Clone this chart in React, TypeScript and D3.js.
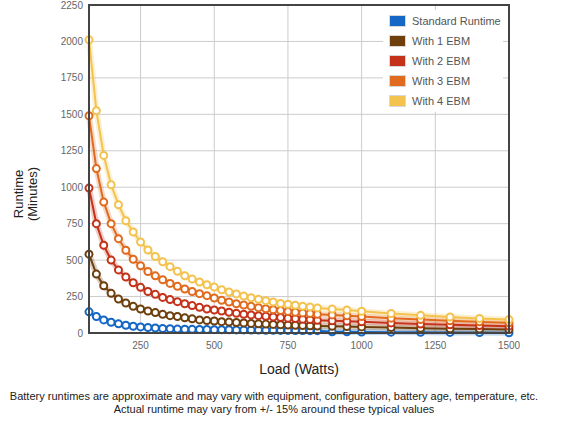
import { useEffect, useRef } from 'react';
import * as d3 from 'd3';

// Load in watts (x values shared by every series)
const loads = [
  75, 100, 125, 150, 175, 200, 225, 250, 275, 300, 325, 350, 375, 400, 425, 450, 475,
  500, 525, 550, 575, 600, 625, 650, 675, 700, 725, 750, 775, 800, 825, 850,
  900, 950, 1000, 1100, 1200, 1300, 1400, 1500,
];

const standardRuntime = [
  145, 113, 90, 74, 63, 53, 46, 42, 38, 34, 31, 29, 27, 26, 25, 24, 24,
  23, 22, 22, 21, 21, 20, 20, 19, 19, 18, 18, 17, 17, 16, 16,
  8, 8, 7, 6, 5, 4, 3, 2,
];
const with1Ebm = [
  541, 404, 324, 272, 233, 206, 183, 165, 151, 140, 128, 119, 113, 104, 97, 90, 85,
  82, 78, 75, 72, 69, 66, 63, 61, 59, 57, 55, 53, 51, 50, 48,
  46, 44, 42, 37, 33, 30, 27, 24,
];
const with2Ebm = [
  994, 750, 602, 500, 433, 384, 345, 313, 285, 265, 244, 229, 215, 201, 188, 176, 165,
  158, 151, 142, 135, 128, 124, 119, 115, 110, 106, 101, 99, 94, 92, 87,
  84, 80, 77, 69, 61, 56, 51, 47,
];
const with3Ebm = [
  1490, 1128, 898, 750, 647, 568, 506, 461, 422, 392, 365, 340, 320, 302, 285, 270, 256,
  240, 224, 213, 201, 192, 183, 174, 167, 160, 154, 147, 142, 138, 133, 128,
  124, 118, 113, 102, 92, 84, 77, 70,
];
const with4Ebm = [
  2011, 1525, 1218, 1017, 880, 770, 693, 624, 569, 525, 489, 455, 423, 393, 370, 350, 331,
  315, 297, 281, 268, 254, 242, 231, 222, 213, 203, 197, 190, 183, 179, 172,
  165, 157, 149, 134, 121, 110, 100, 92,
];

const seriesNames = ['Standard Runtime', 'With 1 EBM', 'With 2 EBM', 'With 3 EBM', 'With 4 EBM'];
const seriesValues = [standardRuntime, with1Ebm, with2Ebm, with3Ebm, with4Ebm];
const seriesColors = ['#1467c4', '#6e3f0d', '#c33219', '#e06b1e', '#f4c24f'];

const xTicks = [250, 500, 750, 1000, 1250, 1500];
const yTicks = [0, 250, 500, 750, 1000, 1250, 1500, 1750, 2000, 2250];

const captionLines = [
  'Battery runtimes are approximate and may vary with equipment, configuration, battery age, temperature, etc.',
  'Actual runtime may vary from +/- 15% around these typical values',
];

export default function App() {
  const svgRef = useRef<SVGSVGElement>(null);

  useEffect(() => {
    if (!svgRef.current) return;
    const width = 567;
    const height = 427;
    const margin = { top: 5, right: 58, bottom: 94, left: 89 };
    const innerW = width - margin.left - margin.right;
    const innerH = height - margin.top - margin.bottom;
    const font = 'Arial, "Liberation Sans", sans-serif';

    const svg = d3.select(svgRef.current);
    svg.selectAll('*').remove();

    const g = svg.append('g').attr('transform', `translate(${margin.left},${margin.top})`);

    const x = d3.scaleLinear().domain([75, 1500]).range([0, innerW]);
    const y = d3.scaleLinear().domain([0, 2250]).range([innerH, 0]);

    // Gridlines
    g.selectAll('line.hgrid')
      .data(yTicks)
      .join('line')
      .attr('class', 'hgrid')
      .attr('x1', 0)
      .attr('x2', innerW)
      .attr('y1', (d) => y(d))
      .attr('y2', (d) => y(d))
      .attr('stroke', '#cccccc');

    g.selectAll('line.vgrid')
      .data(xTicks)
      .join('line')
      .attr('class', 'vgrid')
      .attr('x1', (d) => x(d))
      .attr('x2', (d) => x(d))
      .attr('y1', 0)
      .attr('y2', innerH)
      .attr('stroke', '#cccccc');

    // Legend background (hides grid behind it)
    const legend = g.append('g').attr('transform', `translate(${innerW - 126},0)`);
    legend
      .append('rect')
      .attr('x', 0)
      .attr('y', 5)
      .attr('width', 120)
      .attr('height', 102)
      .attr('fill', '#ffffff');

    // Lines and markers
    const line = d3
      .line<number>()
      .x((_, i) => x(loads[i]))
      .y((d) => y(d));

    seriesValues.forEach((vals, si) => {
      g.append('path')
        .datum(vals)
        .attr('d', line)
        .attr('fill', 'none')
        .attr('stroke', seriesColors[si])
        .attr('stroke-opacity', 0.25)
        .attr('stroke-width', 6);
      g.append('path')
        .datum(vals)
        .attr('d', line)
        .attr('fill', 'none')
        .attr('stroke', seriesColors[si])
        .attr('stroke-width', 2);
    });

    seriesValues.forEach((vals, si) => {
      g.append('g')
        .selectAll('circle')
        .data(vals)
        .join('circle')
        .attr('cx', (_, i) => x(loads[i]))
        .attr('cy', (d) => y(d))
        .attr('r', 3.5)
        .attr('fill', '#ffffff')
        .attr('stroke', seriesColors[si])
        .attr('stroke-width', 2);
    });

    // Frame
    g.append('rect')
      .attr('x', 0)
      .attr('y', 0)
      .attr('width', innerW)
      .attr('height', innerH)
      .attr('fill', 'none')
      .attr('stroke', '#444444')
      .attr('stroke-width', 2);

    // Legend items
    seriesNames.forEach((name, i) => {
      const yy = 10 + i * 20;
      legend
        .append('rect')
        .attr('x', 6.5)
        .attr('y', yy + 0.5)
        .attr('width', 16)
        .attr('height', 11)
        .attr('fill', seriesColors[i])
        .attr('stroke', '#d8d8d8');
      legend
        .append('text')
        .attr('x', 29)
        .attr('y', yy + 10)
        .style('font-family', font)
        .style('font-size', '11px')
        .style('fill', '#555555')
        .text(name);
    });

    // Y tick labels
    g.selectAll('text.ytick')
      .data(yTicks)
      .join('text')
      .attr('class', 'ytick')
      .attr('x', -6)
      .attr('y', (d) => y(d) + 3.5)
      .attr('text-anchor', 'end')
      .style('font-family', font)
      .style('font-size', '10px')
      .style('fill', '#666666')
      .text((d) => d);

    // X tick labels
    g.selectAll('text.xtick')
      .data(xTicks)
      .join('text')
      .attr('class', 'xtick')
      .attr('x', (d) => x(d))
      .attr('y', innerH + 16)
      .attr('text-anchor', 'middle')
      .style('font-family', font)
      .style('font-size', '10px')
      .style('fill', '#666666')
      .text((d) => d);

    // Axis titles
    g.append('text')
      .attr('x', innerW / 2)
      .attr('y', innerH + 41)
      .attr('text-anchor', 'middle')
      .style('font-family', font)
      .style('font-size', '14px')
      .style('fill', '#222222')
      .text('Load (Watts)');

    const yTitle = svg
      .append('text')
      .attr('transform', 'translate(0,194) rotate(-90)')
      .attr('text-anchor', 'middle')
      .style('font-family', font)
      .style('font-size', '13px')
      .style('fill', '#222222');
    yTitle.append('tspan').attr('x', 0).attr('y', 23).text('Runtime');
    yTitle.append('tspan').attr('x', 0).attr('y', 37).text('(Minutes)');

    // Caption
    svg
      .append('g')
      .selectAll('text')
      .data(captionLines)
      .join('text')
      .attr('x', 274)
      .attr('y', (_, i) => 400 + i * 13)
      .attr('text-anchor', 'middle')
      .style('font-family', font)
      .style('font-size', '11px')
      .style('fill', '#222222')
      .text((d) => d);
  }, []);

  return (
    <svg
      ref={svgRef}
      width={567}
      height={427}
      style={{ position: 'absolute', left: 0, top: 0, background: '#ffffff' }}
    />
  );
}
